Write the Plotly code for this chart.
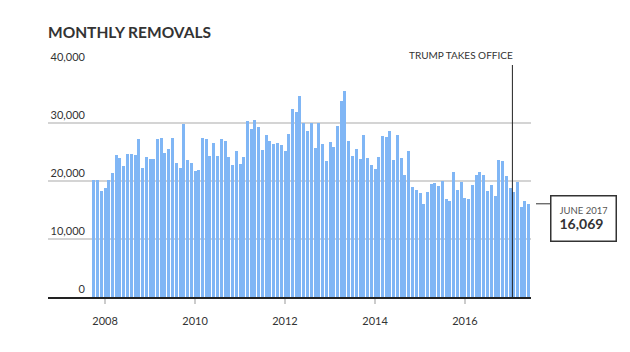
import pandas as pd
import plotly.graph_objects as go

# ---- data ----
months = pd.date_range("2007-10-01", "2017-06-01", freq="MS")
removals = [
    20230, 20230, 18330,
    18790, 20230, 21320, 24480, 23910, 22530, 24710, 24710, 24480, 27180, 22300, 24200,
    23790, 23850, 27240, 27470, 24770, 25460, 27410, 23100, 22300, 29770, 23680, 23160,
    21720, 21950, 27360, 27180, 24370, 26550, 24250, 27300, 26900, 24200, 22700, 25110,
    22990, 24080, 30290, 29020, 30460, 29250, 25400, 27990, 26950, 26440, 26490, 26260,
    25230, 28050, 32360, 31840, 34600, 30060, 28620, 30000, 25750, 30060, 26380, 23390,
    26670, 25800, 29480, 33850, 35460, 26950, 24250, 25570, 23740, 27850, 23910, 22700,
    22130, 24080, 27760, 27530, 28560, 23560, 27870, 23970, 20980, 25110, 18970, 18510,
    17870, 15980, 18160, 19540, 19600, 19080, 20000, 16950, 16610, 21490, 18390, 19830,
    17070, 16950, 19370, 21090, 21610, 20980, 18280, 19370, 17360, 23680, 23390, 20920,
    18790, 18050, 19890, 15570, 16550, 16069,
]
x_tick_vals = ["2008-01-01", "2010-01-01", "2012-01-01", "2014-01-01", "2016-01-01"]
x_tick_text = ["2008", "2010", "2012", "2014", "2016"]
y_tick_vals = [0, 10000, 20000, 30000, 40000]
y_tick_text = ["0", "10,000", "20,000", "30,000", "40,000"]
trump_date = "2017-01-20"
trump_label = "TRUMP TAKES OFFICE"
callout_label = "JUNE 2017"
title_text = "MONTHLY REMOVALS"

FONT = "Lato"
TXT = "#333333"
DAY_MS = 86400000

last_val = removals[-1]

fig = go.Figure()
fig.add_trace(go.Bar(
    x=months, y=removals,
    width=0.8 * 30.44 * DAY_MS,
    marker=dict(color="#80b6f5", line=dict(width=0)),
    hoverinfo="x+y",
))

# plot area in pixels: left 48, right 531, top 65, bottom 297
L, R, T, B = 48, 531, 65, 297
PW = R - L

def px_to_paper_x(px):
    return (px - L) / PW

fig.update_layout(
    width=630, height=352,
    margin=dict(l=L, r=630 - R, t=T, b=352 - B),
    paper_bgcolor="white", plot_bgcolor="white",
    showlegend=False,
    font=dict(family=FONT, color=TXT, size=11),
    title=dict(text="<b>" + title_text + "</b>", x=0, xref="paper", xanchor="left",
               y=1 - 33 / 352, yref="container", yanchor="middle",
               font=dict(family=FONT, size=15.5, color=TXT)),
    xaxis=dict(
        type="date",
        range=["2006-09-25", "2017-06-20"],
        tickvals=x_tick_vals, ticktext=x_tick_text,
        ticks="outside", ticklen=5, tickwidth=2, tickcolor="#cccccc",
        showgrid=False, zeroline=False,
        showline=True, linecolor="#222222", linewidth=2,
        ticklabelstandoff=8,
        tickfont=dict(family=FONT, size=11, color=TXT),
    ),
    yaxis=dict(
        range=[0, 40000],
        tickvals=y_tick_vals, ticktext=y_tick_text,
        showgrid=True, gridcolor="#d4d4d4", gridwidth=2,
        zeroline=False, showline=False, ticks="",
        anchor="free", position=px_to_paper_x(85), side="left",
        ticklabelposition="outside top",
        tickfont=dict(family=FONT, size=11, color=TXT),
    ),
    bargap=0,
)

# Trump line and label
fig.add_shape(type="line", xref="x", yref="y", x0=trump_date, x1=trump_date,
              y0=y_tick_vals[0], y1=y_tick_vals[-1],
              line=dict(color="#222222", width=1), layer="above")
fig.add_annotation(x=trump_date, xref="x", y=y_tick_vals[-1], yref="y",
                   text=trump_label, showarrow=False, xanchor="right", yanchor="bottom",
                   xshift=3, yshift=2, font=dict(family=FONT, size=10, color=TXT))

# callout for last value
fig.add_shape(type="line", xref="paper", yref="y",
              x0=px_to_paper_x(536), x1=px_to_paper_x(550), y0=last_val, y1=last_val,
              line=dict(color="#333333", width=1))
fig.add_annotation(
    x=px_to_paper_x(550), xref="paper", y=last_val, yref="y",
    xanchor="left", yanchor="top", yshift=9,
    text=('<span style="font-size:9.5px;color:#555555">' + callout_label + '</span><br>'
          '<b><span style="font-size:14px">' + f"{last_val:,}" + '</span></b>'),
    showarrow=False, align="left", valign="middle",
    width=48, height=28, borderpad=8, borderwidth=1.5, bordercolor="#333333",
    bgcolor="white", font=dict(family=FONT, size=12, color=TXT),
)

fig.write_html("out.html")
